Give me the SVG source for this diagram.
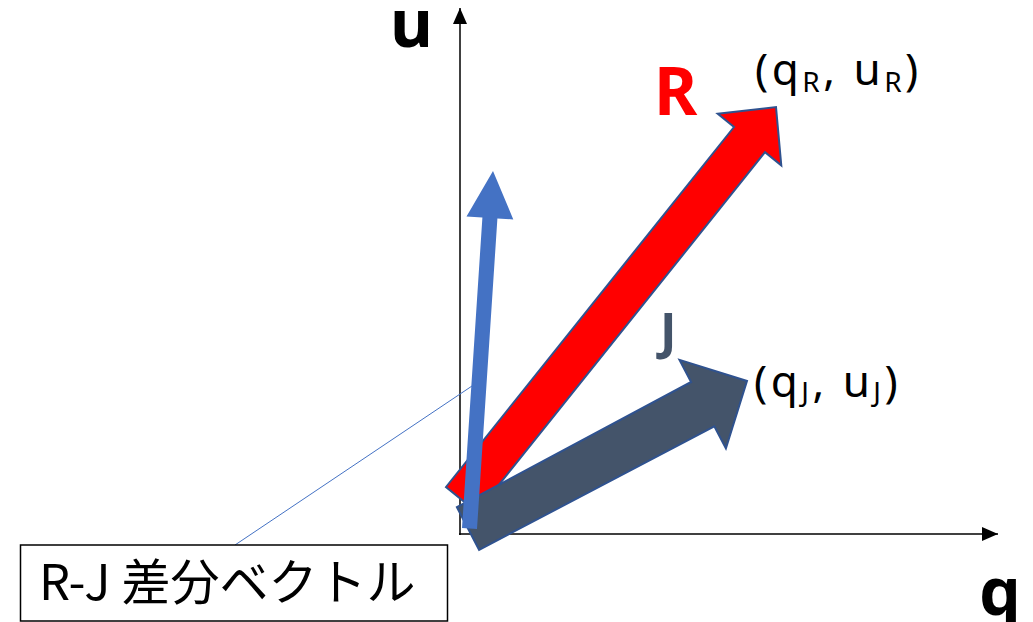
<svg xmlns="http://www.w3.org/2000/svg" width="1033" height="622" viewBox="0 0 1033 622">
<style>
.axis{stroke:#000;stroke-width:1.5;fill:none}
.lbl{font-family:"Noto Sans","Liberation Sans",sans-serif;font-size:44px;letter-spacing:3.5px;fill:#000}
.sub{font-size:28px}
.big{font-family:"Noto Sans","Liberation Sans",sans-serif;font-weight:bold}
.box{font-family:"Noto Sans CJK JP","Noto Sans",sans-serif;font-size:49px;fill:#000}
</style>
<defs>
<marker id="axhV" markerUnits="userSpaceOnUse" markerWidth="18" markerHeight="16" refX="16" refY="7" orient="auto">
<path d="M0,0 L16,7 L0,14 Z" fill="#000"/>
</marker>
</defs>
<g id="axes">
<line class="axis" x1="460" y1="535" x2="460" y2="8" marker-end="url(#axhV)"/>
<line class="axis" x1="459" y1="534" x2="998" y2="534" marker-end="url(#axhV)"/>
</g>
<g id="axis-labels">
<text class="big" x="390" y="47" font-size="66">u</text>
<text class="big" x="979" y="615" font-size="66">q</text>
</g>
<g id="R">
<polygon points="446,487 734,127 717.7,113.8 776,107 781.3,165.4 765,152.2 477,512.2" fill="#ff0000" stroke="#2f528f" stroke-width="2" stroke-linejoin="miter"/>
<text class="big" x="654" y="115" font-size="66" fill="#ff0000">R</text>
<text class="lbl" x="755" y="85">(q<tspan class="sub" dy="7">R</tspan><tspan dy="-7">, u</tspan><tspan class="sub" dy="7">R</tspan><tspan dy="-7">)</tspan></text>
</g>
<g id="J">
<polygon points="456.9,507.2 691.1,382 679.5,359.9 747,381 725.9,448.5 714.3,426.4 479.1,549.8" fill="#44546a" stroke="#2f528f" stroke-width="2"/>
<text class="big" x="660" y="349" font-size="50" fill="#44546a">J</text>
<text class="lbl" x="754" y="397">(q<tspan class="sub" dy="5">J</tspan><tspan dy="-5">, u</tspan><tspan class="sub" dy="5">J</tspan><tspan dy="-5">)</tspan></text>
</g>
<g id="diff">
<polygon points="462,528 482.4,217.4 466.5,216.4 493,171 513.3,219.4 497.4,218.4 477,529" fill="#4472c4"/>
</g>
<g id="connectors">
<line x1="235" y1="545" x2="472" y2="386" stroke="#4472c4" stroke-width="1"/>
</g>
<g id="callout">
<rect x="20.5" y="545" width="427" height="76" fill="#fff" stroke="#000" stroke-width="1.5"/>
<text class="box" x="39" y="600">R-J 差分ベクトル</text>
</g>
</svg>
